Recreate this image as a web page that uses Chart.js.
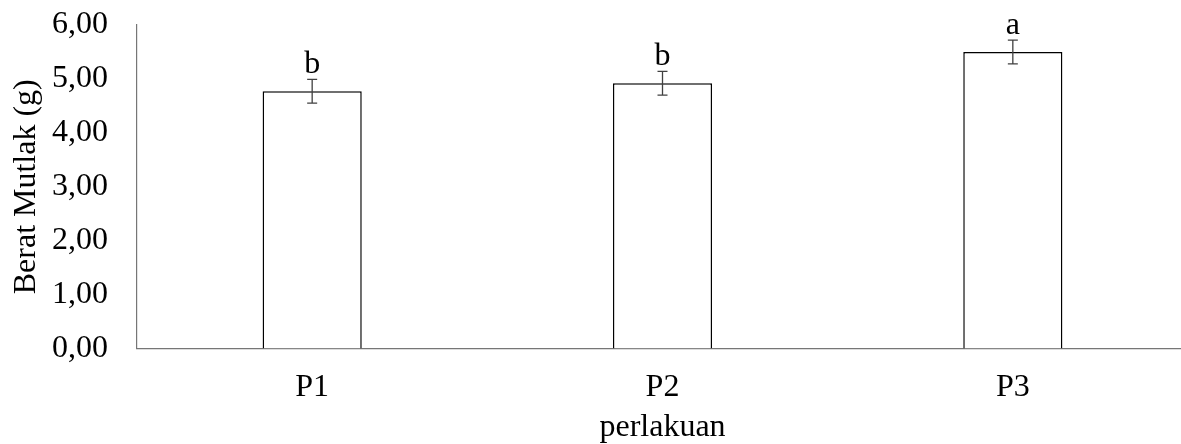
<!DOCTYPE html>
<html>
<head>
<meta charset="utf-8">
<script src="https://cdn.jsdelivr.net/npm/chart.js@4/dist/chart.umd.min.js"></script>
<style>
html,body{margin:0;padding:0;background:#fff;overflow:hidden;}
#wrap{width:1188px;height:444px;position:relative;}
</style>
</head>
<body>
<div id="wrap"><canvas id="c"></canvas></div>
<script>
const categories = ['P1', 'P2', 'P3'];
const means = [4.77, 4.92, 5.50];
const errors = [0.22, 0.22, 0.22];
const letters = ['b', 'b', 'a'];
const yTicks = [0, 1, 2, 3, 4, 5, 6];

const FONT = '"Liberation Serif", "Times New Roman", serif';
const FS = 32;

const errorBarPlugin = {
  id: 'errorBars',
  afterDatasetsDraw(chart) {
    const ctx = chart.ctx;
    const meta = chart.getDatasetMeta(0);
    const y = chart.scales.y;
    ctx.save();
    meta.data.forEach((bar, i) => {
      const x = bar.x;
      const top = y.getPixelForValue(means[i] + errors[i]);
      const bot = y.getPixelForValue(means[i] - errors[i]);
      ctx.strokeStyle = '#404040';
      ctx.lineWidth = 1.3;
      ctx.beginPath();
      ctx.moveTo(x, top); ctx.lineTo(x, bot);
      ctx.moveTo(x - 5, top); ctx.lineTo(x + 5, top);
      ctx.moveTo(x - 5, bot); ctx.lineTo(x + 5, bot);
      ctx.stroke();
      ctx.fillStyle = '#000';
      ctx.font = FS + 'px ' + FONT;
      ctx.textAlign = 'center';
      ctx.textBaseline = 'alphabetic';
      ctx.fillText(letters[i], x, top - 6);
    });
    ctx.restore();
  }
};

new Chart(document.getElementById('c'), {
  type: 'bar',
  data: {
    labels: categories,
    datasets: [{
      data: means,
      backgroundColor: '#ffffff',
      borderColor: '#000000',
      borderWidth: 1.5,
      barPercentage: 0.283,
      categoryPercentage: 1.0
    }]
  },
  options: {
    responsive: true,
    maintainAspectRatio: false,
    animation: false,
    devicePixelRatio: 1,
    layout: { padding: { top: 25, right: 0, left: 5.8, bottom: 0 } },
    plugins: { legend: { display: false }, tooltip: { enabled: false } },
    scales: {
      x: {
        grid: { display: false, drawTicks: false },
        border: { display: true, color: '#767676', width: 1.2 },
        ticks: { color: '#000', font: { family: FONT, size: FS }, padding: 20 },
        title: { display: true, text: 'perlakuan', color: '#000', font: { family: FONT, size: FS, lineHeight: 1.0 }, padding: { top: 0, bottom: 0 } },
        afterFit(scale) { scale.height = 95.5; scale.paddingLeft = 0; scale.paddingRight = 0; }
      },
      y: {
        min: 0, max: 6,
        afterBuildTicks(scale) { scale.ticks = yTicks.map(v => ({ value: v })); },
        grid: { display: false, drawTicks: false },
        border: { display: true, color: '#767676', width: 1.2 },
        ticks: {
          color: '#000', font: { family: FONT, size: FS }, padding: 29,
          callback: v => Number(v).toFixed(2).replace('.', ',')
        },
        title: { display: true, text: 'Berat Mutlak (g)', color: '#000', font: { family: FONT, size: FS }, padding: { top: 2, bottom: 5.8 } },
        afterFit(scale) { scale.width = 137 - 5.8; scale.paddingTop = 0; scale.paddingBottom = 0; }
      }
    }
  },
  plugins: [errorBarPlugin]
});
</script>
</body>
</html>
